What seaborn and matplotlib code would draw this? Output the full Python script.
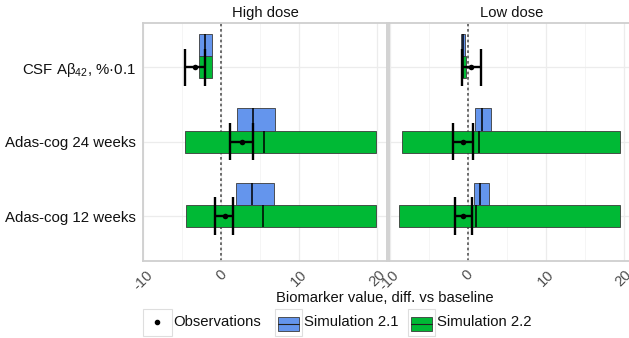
import numpy as np
import pandas as pd
import matplotlib
matplotlib.use("Agg")
import matplotlib.pyplot as plt
from matplotlib.patches import Rectangle
import seaborn as sns

# ---------------- data ----------------
doses = ["High dose", "Low dose"]
biomarkers = ["Adas-cog 12 weeks", "Adas-cog 24 weeks", r"CSF A$\beta_{42}$, %·0.1"]
x_ticks = [-10, 0, 10, 20]

# Observations: mean and interval, per biomarker (order as in `biomarkers`)
obs_mean_high = [0.42, 2.64, -3.43]
obs_lo_high = [-0.77, 1.06, -4.72]
obs_hi_high = [1.49, 4.05, -2.14]
obs_mean_low = [-0.54, -0.54, 0.43]
obs_lo_low = [-1.60, -1.82, -0.72]
obs_hi_low = [0.60, 0.70, 1.76]

# Simulation 2.1: lower, median, upper
sim21_lo_high = [1.92, 1.96, -2.90]
sim21_med_high = [3.92, 4.05, -2.14]
sim21_hi_high = [6.79, 6.87, -1.19]
sim21_lo_low = [0.83, 0.96, -0.85]
sim21_med_low = [1.60, 1.80, -0.60]
sim21_hi_low = [2.71, 3.00, -0.38]

# Simulation 2.2: lower, median, upper
sim22_lo_high = [-4.49, -4.62, -2.90]
sim22_med_high = [5.29, 5.42, -2.14]
sim22_hi_high = [19.80, 19.80, -1.19]
sim22_lo_low = [-8.74, -8.44, -0.81]
sim22_med_low = [1.04, 1.47, -0.60]
sim22_hi_low = [19.50, 19.55, -0.26]

# ---------------- tables ----------------
obs_df = pd.DataFrame({
    "dose": np.repeat(doses, 3),
    "biomarker": biomarkers * 2,
    "ypos": list(range(3)) * 2,
    "mean": obs_mean_high + obs_mean_low,
    "lo": obs_lo_high + obs_lo_low,
    "hi": obs_hi_high + obs_hi_low,
})
sim_df = pd.DataFrame({
    "dose": np.tile(np.repeat(doses, 3), 2),
    "sim": np.repeat(["Simulation 2.1", "Simulation 2.2"], 6),
    "ypos": list(range(3)) * 4,
    "lo": sim21_lo_high + sim21_lo_low + sim22_lo_high + sim22_lo_low,
    "med": sim21_med_high + sim21_med_low + sim22_med_high + sim22_med_low,
    "hi": sim21_hi_high + sim21_hi_low + sim22_hi_high + sim22_hi_low,
})

# ---------------- style ----------------
sns.set_theme(style="white")
plt.rcParams["font.family"] = ["Liberation Sans", "DejaVu Sans"]
plt.rcParams["mathtext.fontset"] = "custom"
plt.rcParams["mathtext.rm"] = "Liberation Sans"
plt.rcParams["mathtext.it"] = "Liberation Sans"
plt.rcParams["mathtext.default"] = "regular"
plt.rcParams["axes.unicode_minus"] = False

colors = {"Simulation 2.1": "#6495ED", "Simulation 2.2": "#00B935"}
offsets = {"Simulation 2.1": 0.3, "Simulation 2.2": 0.0}
box_h = 0.3
cap_h = 0.5

W, H = 629, 338
fig = plt.figure(figsize=(W / 100, H / 100), dpi=100)

def px_axes(x0, x1, y0, y1):
    return fig.add_axes([x0 / W, 1 - y1 / H, (x1 - x0) / W, (y1 - y0) / H])

axes = [px_axes(142.7, 387.3, 22.7, 260.7), px_axes(389.0, 633.6, 22.7, 260.7)]

for ax, dose in zip(axes, doses):
    ax.set_xlim(-10.08, 21.28)
    ax.set_ylim(-0.6, 2.6)
    ax.set_xticks(x_ticks)
    ax.set_xticks([-5, 5, 15], minor=True)
    ax.grid(True, which="major", color="#ececec", lw=0.9)
    ax.grid(True, which="minor", axis="x", color="#f4f4f4", lw=0.6)
    ax.set_axisbelow(True)
    for s in ax.spines.values():
        s.set_color("#cfcfcf")
        s.set_linewidth(1.3)

    ax.axvline(0, color="#555555", ls=(0, (1.6, 1.6)), lw=1.2, zorder=2)

    sd = sim_df[sim_df.dose == dose]
    for sim in ["Simulation 2.2", "Simulation 2.1"]:
        d = sd[sd.sim == sim]
        yc = d.ypos + offsets[sim]
        ax.barh(yc, d.hi - d.lo, left=d.lo, height=box_h, color=colors[sim],
                edgecolor="#3a3a3a", linewidth=0.6, zorder=3)
        ax.vlines(d.med, yc - box_h / 2, yc + box_h / 2, color="black", lw=1.1, zorder=4)

    od = obs_df[obs_df.dose == dose]
    ax.hlines(od.ypos, od.lo, od.hi, color="black", lw=1.7, zorder=5)
    ax.vlines(od.lo, od.ypos - cap_h / 2, od.ypos + cap_h / 2, color="black", lw=1.7, zorder=5)
    ax.vlines(od.hi, od.ypos - cap_h / 2, od.ypos + cap_h / 2, color="black", lw=1.7, zorder=5)
    sns.scatterplot(data=od, x="mean", y="ypos", ax=ax, color="black", s=16,
                    edgecolor="black", linewidth=0, legend=False, zorder=6)
    ax.set_xlabel("")
    ax.set_ylabel("")

    ax.set_xticklabels([str(t) for t in x_ticks])
    ax.tick_params(axis="x", which="major", length=3, width=0.8, color="#555555",
                   labelsize=10.6, labelcolor="#4d4d4d", pad=2, labelrotation=45)
    ax.tick_params(axis="x", which="minor", length=0)
    for lab in ax.get_xticklabels():
        lab.set_ha("center")
        lab.set_va("top")
    ax.text(0.5, 1.012, dose, transform=ax.transAxes, ha="center", va="bottom",
            fontsize=10.6, color="#111111")

axes[0].set_yticks(range(3))
axes[0].set_yticklabels(biomarkers)
axes[0].tick_params(axis="y", length=3, width=0.8, color="#555555",
                    labelsize=10.8, labelcolor="#111111", pad=2)
axes[1].set_yticks(range(3))
axes[1].tick_params(axis="y", length=0, labelleft=False)

fig.text(384.5 / W, 1 - 298 / H, "Biomarker value, diff. vs baseline",
         ha="center", va="center", fontsize=10.6, color="#111111")

# ---------------- legend (ggplot-like keys) ----------------
lax = fig.add_axes([0, 0, 1, 1])
lax.set_xlim(0, W)
lax.set_ylim(H, 0)
lax.axis("off")
lax.patch.set_alpha(0)
key_y0, key_y1 = 308.5, 335.5
keys = [(143.0, 171.7), (275.0, 302.3), (408.3, 434.5)]
for kx0, kx1 in keys:
    lax.add_patch(Rectangle((kx0, key_y0), kx1 - kx0, key_y1 - key_y0,
                            facecolor="white", edgecolor="#dedede", lw=0.8))
lax.plot([157.3], [322], marker="o", ms=3, color="black")
for (kx0, kx1), sim in zip(keys[1:], ["Simulation 2.1", "Simulation 2.2"]):
    lax.add_patch(Rectangle((kx0 + 3, 316.7), (kx1 - kx0) - 6, 14,
                            facecolor=colors[sim], edgecolor="#3a3a3a", lw=0.6))
    lax.plot([kx0 + 3, kx1 - 3], [323.7, 323.7], color="#222222", lw=0.8)
for tx, label in zip([173.5, 304.0, 437.0], ["Observations", "Simulation 2.1", "Simulation 2.2"]):
    lax.text(tx, 322.5, label, ha="left", va="center", fontsize=10.7, color="#111111")

fig.savefig("out.png", dpi=100)
